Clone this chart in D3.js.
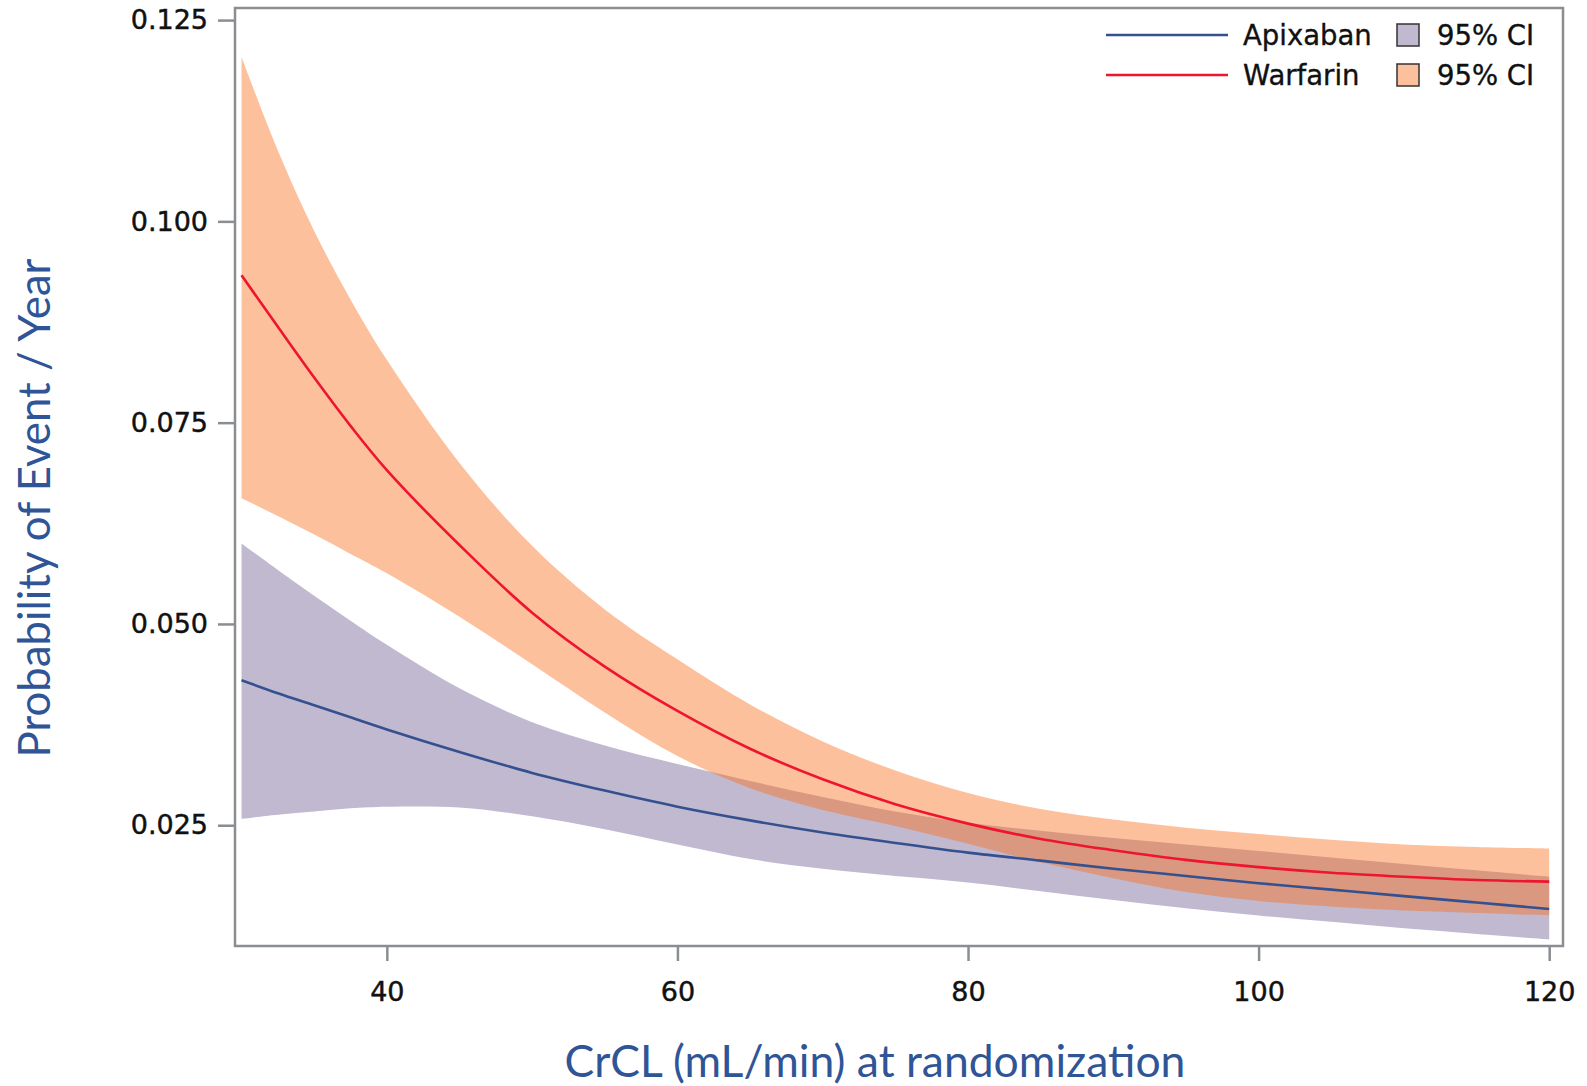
<!DOCTYPE html>
<html>
<head>
<meta charset="utf-8">
<script src="https://cdn.jsdelivr.net/npm/d3@7"></script>
<style>
  body { margin: 0; background: #fff; }
  svg { display: block; }
  .axis text { font-family: "DejaVu Sans", sans-serif; font-size: 27px; fill: #111; stroke: #111; stroke-width: 0.45; }
  .axis line { stroke: #8a8d91; stroke-width: 2.5; }
  .legend text { font-family: "DejaVu Sans", sans-serif; font-size: 27.5px; fill: #111; stroke: #111; stroke-width: 0.35; }
  .title { font-family: "Lato", "Open Sans", sans-serif; fill: #2f5597; }
</style>
</head>
<body>
<svg id="chart" width="1587" height="1086"></svg>
<script>
// CrCL at randomization (mL/min)
var crcl = [30, 32.5, 35, 37.5, 40, 45, 50, 55, 60, 65, 70, 75, 80, 85, 90, 95, 100, 105, 110, 115, 120];

// warfarin: estimate + 95% CI
var warfarinRate  = [0.0933, 0.0869, 0.0806, 0.0746, 0.0691, 0.0598, 0.0514, 0.0447, 0.0392, 0.0345, 0.0307, 0.0276, 0.0252, 0.0233, 0.0219, 0.0207, 0.0198, 0.0191, 0.0186, 0.0182, 0.0180];
var warfarinUpper = [0.1204, 0.1088, 0.0988, 0.0903, 0.0828, 0.0700, 0.0597, 0.0518, 0.0456, 0.0400, 0.0354, 0.0318, 0.0290, 0.0270, 0.0257, 0.0247, 0.0239, 0.0232, 0.0226, 0.0223, 0.0221];
var warfarinLower = [0.0656, 0.0634, 0.0611, 0.0587, 0.0563, 0.0509, 0.0450, 0.0390, 0.0336, 0.0296, 0.0269, 0.0249, 0.0227, 0.0204, 0.0184, 0.0167, 0.0156, 0.0149, 0.0144, 0.0141, 0.0138];

// apixaban: estimate + 95% CI
var apixabanRate  = [0.0430, 0.0414, 0.0399, 0.0384, 0.0369, 0.0341, 0.0315, 0.0293, 0.0273, 0.0256, 0.0241, 0.0228, 0.0216, 0.0206, 0.0196, 0.0187, 0.0178, 0.0170, 0.0162, 0.0154, 0.0146];
var apixabanUpper = [0.0600, 0.0567, 0.0535, 0.0504, 0.0474, 0.0420, 0.0378, 0.0349, 0.0326, 0.0305, 0.0285, 0.0267, 0.0253, 0.0243, 0.0234, 0.0226, 0.0218, 0.0210, 0.0202, 0.0194, 0.0186];
var apixabanLower = [0.0258, 0.0263, 0.0267, 0.0271, 0.0273, 0.0272, 0.0261, 0.0245, 0.0226, 0.0208, 0.0196, 0.0187, 0.0179, 0.0168, 0.0157, 0.0147, 0.0138, 0.0130, 0.0122, 0.0115, 0.0108];

var xTicks = [40, 60, 80, 100, 120];
var yTicks = [0.025, 0.050, 0.075, 0.100, 0.125];

var svg = d3.select("#chart");

var plotLeft = 235, plotRight = 1563, plotTop = 8, plotBottom = 946;

var xScale = d3.scaleLinear().domain([29.55, 120.95]).range([plotLeft, plotRight]),
    yScale = d3.scaleLinear().domain([0.0100, 0.1265]).range([plotBottom, plotTop]);

function rows(lo, mid, hi) {
    return crcl.map(function(c, i) { return { x: c, lo: lo[i], mid: mid[i], hi: hi[i] }; });
}
var apixaban = rows(apixabanLower, apixabanRate, apixabanUpper),
    warfarin = rows(warfarinLower, warfarinRate, warfarinUpper);

var smooth = d3.curveCatmullRom.alpha(0.5);

var band = d3.area()
    .curve(smooth)
    .x(function(d) { return xScale(d.x); })
    .y0(function(d) { return yScale(d.lo); })
    .y1(function(d) { return yScale(d.hi); });

var line = d3.line()
    .curve(smooth)
    .x(function(d) { return xScale(d.x); })
    .y(function(d) { return yScale(d.mid); });

// bands (warfarin drawn see-through on top so the overlap darkens)
svg.append("path").datum(apixaban).attr("d", band).attr("fill", "#c1b9d0");
svg.append("path").datum(warfarin).attr("d", band)
   .attr("fill", "rgb(250,110,27)").attr("fill-opacity", 0.435);

svg.append("path").datum(apixaban).attr("d", line)
   .attr("fill", "none").attr("stroke", "#34508f").attr("stroke-width", 2.6);
svg.append("path").datum(warfarin).attr("d", line)
   .attr("fill", "none").attr("stroke", "#ee1530").attr("stroke-width", 2.6);

// axes
var gx = svg.append("g").attr("class", "axis")
    .attr("transform", "translate(0," + plotBottom + ")")
    .call(d3.axisBottom(xScale).tickValues(xTicks).tickSize(15).tickPadding(21));
gx.select(".domain").remove();

var gy = svg.append("g").attr("class", "axis")
    .attr("transform", "translate(" + plotLeft + ",0)")
    .call(d3.axisLeft(yScale).tickValues(yTicks).tickFormat(d3.format(".3f")).tickSize(17).tickPadding(10));
gy.select(".domain").remove();

// frame
svg.append("rect")
   .attr("x", plotLeft).attr("y", plotTop)
   .attr("width", plotRight - plotLeft).attr("height", plotBottom - plotTop)
   .attr("fill", "none").attr("stroke", "#8a8d91").attr("stroke-width", 2.5);

// titles, sized to the widths in the original
function fitText(sel, target) {
    var w = sel.node().getComputedTextLength();
    var fs = parseFloat(sel.style("font-size"));
    sel.style("font-size", (fs * target / w) + "px");
}

var xt = svg.append("text").attr("class", "title")
    .attr("x", 875).attr("y", 1077)
    .attr("text-anchor", "middle")
    .style("font-size", "40px")
    .text("CrCL (mL/min) at randomization");
fitText(xt, 621);

var yt = svg.append("text").attr("class", "title")
    .attr("transform", "translate(50,508) rotate(-90)")
    .attr("text-anchor", "middle")
    .style("font-size", "40px")
    .text("Probability of Event / Year");
fitText(yt, 499);

// legend
var legendItems = [
    { name: "Apixaban", line: "#34508f", box: "#c1b9d0", y: 35 },
    { name: "Warfarin", line: "#ee1530", box: "#fdc09c", y: 75 }
];
var lg = svg.append("g").attr("class", "legend");
var item = lg.selectAll("g").data(legendItems).enter().append("g")
    .attr("transform", function(d) { return "translate(0," + d.y + ")"; });
item.append("line")
    .attr("x1", 1106).attr("x2", 1228)
    .attr("stroke", function(d) { return d.line; }).attr("stroke-width", 2.6);
item.append("text").attr("x", 1243).attr("y", 10).text(function(d) { return d.name; });
item.append("rect")
    .attr("x", 1397).attr("y", -11).attr("width", 22).attr("height", 22)
    .attr("fill", function(d) { return d.box; })
    .attr("stroke", "#333").attr("stroke-width", 1.5);
item.append("text").attr("x", 1437).attr("y", 10).text("95% CI");
</script>
</body>
</html>
